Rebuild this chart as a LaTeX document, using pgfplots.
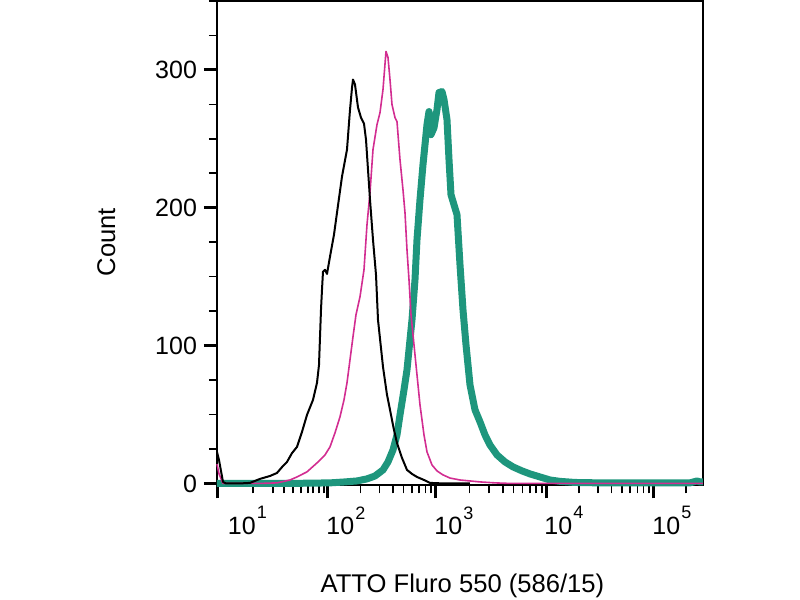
\documentclass[border=0pt]{standalone}
\usepackage{pgfplots}
\pgfplotsset{compat=1.18}
\usepackage{fontspec}
\setmainfont{Liberation Sans}
\definecolor{teal1}{RGB}{30,150,125}
\definecolor{mag1}{RGB}{210,45,145}
\newcommand{\ep}[1]{10\kern0.6pt\raisebox{7.6pt}{\fontsize{9}{10}\selectfont #1}}
\begin{document}
\begin{tikzpicture}
\useasboundingbox (-108.5pt,-57.25pt) rectangle (291.5pt,242.75pt);
\begin{axis}[
  at={(0,0)}, anchor=south west,
  scale only axis, width=243pt, height=242.25pt,
  xmin=217, xmax=703, ymin=-1.5, ymax=350,
  clip=false,
  tick align=outside, tick pos=left,
  axis line style={line width=1pt},
  major tick length=6.5pt, minor tick length=4pt,
  major tick style={line width=1.5pt, black},
  minor tick style={line width=0.8pt, black},
  ytick={0,100,200,300}, yticklabels={0,100,200,300},
  minor ytick={25,50,75,125,150,175,225,250,275,325,350},
  xtick={218,328,436,547,654}, xticklabels={\empty,\empty,\empty,\empty,\empty},
  minor xtick={253,273,284,293,301,308,313,319,324,
    360.5,379.5,393,403.5,412,419.3,425.5,431,
    469.4,489,502.8,513.6,522.4,529.8,536.2,541.9,
    579.2,598,611.4,621.8,630.3,637.4,643.6,649.1,686},
  extra x ticks={247.5,346,454,564,672},
  extra x tick labels={\ep{1},\ep{2},\ep{3},\ep{4},\ep{5}},
  extra x tick style={major tick length=0pt, xticklabel style={yshift=-7pt}},
  tick label style={font=\fontsize{12.5}{15}\selectfont},
  label style={font=\fontsize{12.8}{15}\selectfont},
  xlabel={ATTO Fluro 550 (586/15)},
  xlabel style={at={(axis description cs:0.505,-0.221)}, anchor=base},
  ylabel={Count},
  ylabel style={at={(axis description cs:-0.228,0.502)}, anchor=center},
]
% teal
\addplot[teal1, line width=3.5pt, line join=round] table {
217 0
290 0
310 0.2
330 0.4
345 1.1
357 1.8
367 3.3
375 5.4
383 9.8
388 15.6
393 24.3
397 35.2
400 49.7
404 67.9
407 82.4
410 104.2
412 118.7
415 147.8
417 176.8
420 205.9
423 231.3
425 245.8
427 260.3
429 269.8
431 253
434 258
437 271.2
439 283.6
442 284.3
444 278.5
447 264
449 235
451 209.5
454 202.2
457 195
460 158.7
463 126
466 100.6
470 71.5
475 53.4
480 44.7
485 35.2
490 27.9
497 20.7
505 15.6
513 12
522 9.1
530 6.9
540 4.7
550 2.5
560 1.5
575 0.7
600 0.4
650 0.4
690 0.4
697 1.8
700 1.1
703 1.1
};
% magenta
\addplot[mag1, line width=0.8pt, line join=round] table {
217 14
219 7
223 0
260 0
277 0.4
290 2.5
297 4.7
307 8.4
317 14.9
325 20.7
330 26.5
335 36.7
340 48.3
344 60.6
347 73
350 89.7
353 106.4
356 122.4
360 135.4
364 155
367 187.7
370 211
373 242.2
377 260.3
380 269
383 285.8
386 313.4
388 309
390 293
392 274.9
395 265.4
397 262.5
400 234.9
403 213
405 196.4
407 169.5
409 147.8
411 122.4
414 100.6
417 78.8
420 57
424 35.2
427 22.9
432 13.4
437 9.1
443 6.2
450 3.9
460 2.5
470 1.8
480 1.1
495 0.4
510 0
703 0
};
% black
\addplot[black, line width=1pt, line join=round] table {
217 22.9
219 17
223 1.1
226 0
240 0
250 0.4
260 3.3
270 5.4
277 7.6
283 12.7
287 15.6
292 22
297 26.5
302 37.4
307 49.7
313 60.6
317 73
319 86
320 106
321 126
322 140.6
323 153.6
325 155
327 152
330 164.5
334 180.5
337 196.4
342 222.6
347 242.2
350 271
352 287
353 293
355 289.4
358 272.8
361 265.4
364 261
366 249.5
368 227.7
370 205.9
373 176.8
376 151.4
378 118.7
383 84.6
387 64.3
390 53.4
394 38.8
397 29.4
402 18.5
407 9.8
412 6.9
417 4.7
424 2.5
430 0.4
443 0
470 0
};
\end{axis}
\end{tikzpicture}
\end{document}
